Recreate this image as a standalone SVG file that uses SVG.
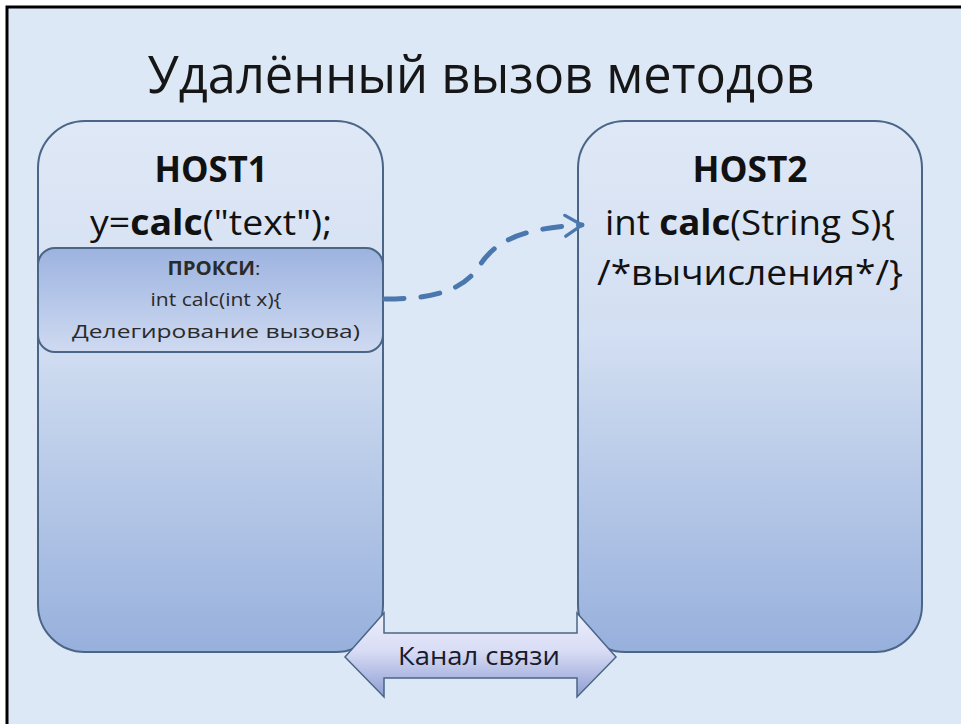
<svg xmlns="http://www.w3.org/2000/svg" width="961" height="724" viewBox="0 0 961 724">
<defs>
<style>
text{font-family:"Open Sans","Noto Sans","DejaVu Sans",sans-serif;fill:#111;text-anchor:middle}
.host{stroke:#4a6587;stroke-width:2;fill:url(#hostg)}
.big{font-size:35px}
.small{font-size:19px;fill:#2a2a2a}
</style>
<linearGradient id="hostg" x1="0" y1="0" x2="0" y2="1">
<stop offset="0" stop-color="#dfe8f6"/>
<stop offset="0.4" stop-color="#d3dff2"/>
<stop offset="1" stop-color="#97b0dc"/>
</linearGradient>
<linearGradient id="proxyg" x1="0" y1="0" x2="0" y2="1">
<stop offset="0" stop-color="#9cb3df"/>
<stop offset="1" stop-color="#cfdaf1"/>
</linearGradient>
<linearGradient id="arrg" x1="0" y1="0" x2="0" y2="1">
<stop offset="0" stop-color="#eef0fb"/>
<stop offset="0.45" stop-color="#d8dcf5"/>
<stop offset="1" stop-color="#8e9dd2"/>
</linearGradient>
<marker id="ah" viewBox="0 0 12 12" refX="9" refY="6" markerWidth="5" markerHeight="5" orient="auto" markerUnits="strokeWidth">
<path d="M1,1 L9,6 L1,11" fill="none" stroke="#4a78ae" stroke-width="1.6" stroke-linecap="round" stroke-linejoin="round"/>
</marker>
</defs>
<rect x="0" y="0" width="961" height="724" fill="#fff"/>
<rect x="7" y="7" width="970" height="730" fill="#dce8f5" stroke="#000" stroke-width="3"/>
<text x="481" y="93" font-size="51" textLength="667" lengthAdjust="spacingAndGlyphs" style="fill:#161616">Удалённый вызов методов</text>

<g id="host1">
<path class="host" d="M85,121 H336 A47,47 0 0 1 383,168 V605 A47,47 0 0 1 336,652 H85 A47,47 0 0 1 38,605 V168 A47,47 0 0 1 85,121 Z"/>
<text class="big" x="211" y="182" font-weight="bold" textLength="113" lengthAdjust="spacingAndGlyphs">HOST1</text>
<text class="big" x="211" y="235" textLength="242" lengthAdjust="spacingAndGlyphs">y=<tspan font-weight="bold">calc</tspan>("text");</text>
</g>

<g id="proxy">
<rect x="38" y="248" width="345" height="104" rx="17" fill="url(#proxyg)" stroke="#4a6587" stroke-width="2"/>
<text class="small" x="214" y="275" font-size="18" textLength="93" lengthAdjust="spacingAndGlyphs"><tspan font-weight="bold">ПРОКСИ</tspan>:</text>
<text class="small" x="216" y="306" textLength="131" lengthAdjust="spacingAndGlyphs">int calc(int x){</text>
<text class="small" x="216" y="338" font-size="20" textLength="288" lengthAdjust="spacingAndGlyphs">Делегирование вызова)</text>
</g>

<g id="host2">
<path class="host" d="M625,121 H875 A47,47 0 0 1 922,168 V605 A47,47 0 0 1 875,652 H625 A47,47 0 0 1 578,605 V168 A47,47 0 0 1 625,121 Z"/>
<text class="big" x="750" y="182" font-weight="bold" textLength="115" lengthAdjust="spacingAndGlyphs">HOST2</text>
<text class="big" x="750" y="235" textLength="290" lengthAdjust="spacingAndGlyphs">int <tspan font-weight="bold">calc</tspan>(String S){</text>
<text class="big" x="750" y="285" textLength="306" lengthAdjust="spacingAndGlyphs">/*вычисления*/}</text>
</g>

<g id="channel">
<path d="M345,657 L384,613 V633 H577 V613 L616,657 L577,697 V678 H384 V697 Z" fill="url(#arrg)" stroke="#4a6587" stroke-width="1.5"/>
<text x="479" y="665" font-size="26" textLength="162" lengthAdjust="spacingAndGlyphs" style="fill:#1a1a2a">Канал связи</text>
</g>

<g id="connectors">
<path d="M385,299 C440,299 465,288 480,265 C495,242 520,228 582,225" fill="none" stroke="#4a78ae" stroke-width="5" stroke-dasharray="19,17" stroke-linecap="round" marker-end="url(#ah)"/>
</g>
</svg>
